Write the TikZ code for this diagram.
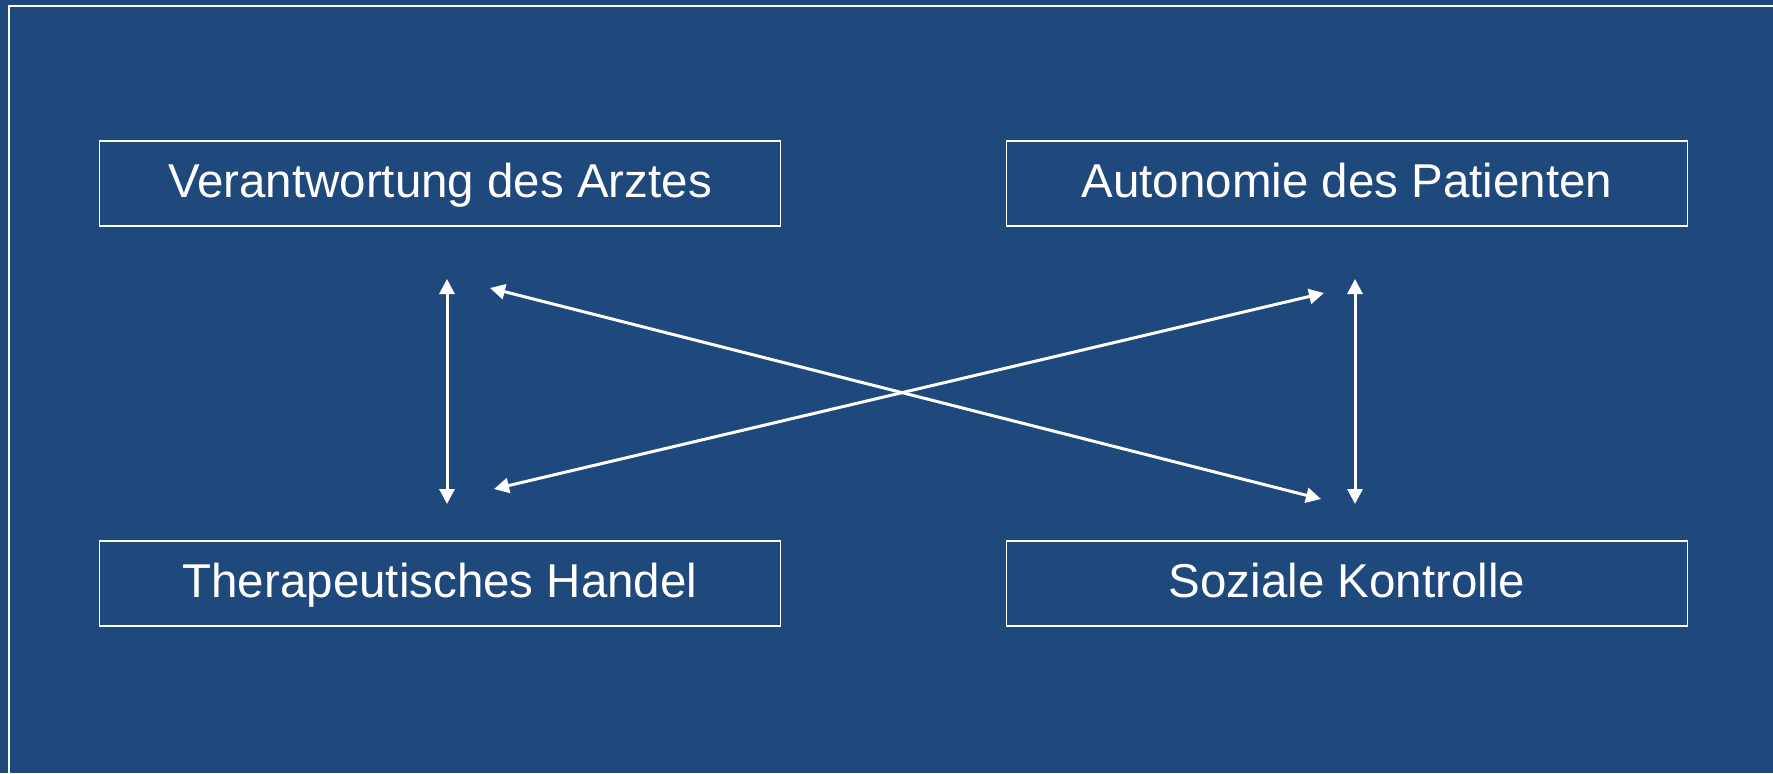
\documentclass[tikz,border=0pt]{standalone}
\usepackage{fontspec}
\setmainfont{Liberation Sans}
\usetikzlibrary{arrows.meta}
\definecolor{bgblue}{RGB}{31,73,125}

\begin{document}
\begin{tikzpicture}[x=0.5pt,y=-0.5pt,<->,>={Triangle[length=7.5pt,width=7.5pt]},line width=1.5pt,white]
  \tikzstyle{topic}=[draw,line width=0.75pt,minimum width=340.5pt,minimum height=42.5pt,inner sep=0pt,
    text height=17pt,text depth=2.7pt,font=\fontsize{23.75}{28}\selectfont,text=white]

  \fill[bgblue] (0,0) rectangle (1773,773);
  \useasboundingbox (0,0) rectangle (1773,773);
  \draw[-,line width=1pt] (9,773) -- (9,6) -- (1773,6);

  \node[topic] (arzt) at (440,183.5) {Verantwortung des Arztes};
  \node[topic] (pat) at (1347,183.5) {Autonomie des Patienten};
  \node[topic] (ther) at (440,583.5) {Therapeutisches Handel};
  \node[topic] (soz) at (1347,583.5) {Soziale Kontrolle};

  % arrow ends
  \coordinate (a1) at (447,279);
  \coordinate (a2) at (447,504);
  \coordinate (b1) at (1355,279);
  \coordinate (b2) at (1355,504);
  \coordinate (c1) at (490,288);
  \coordinate (c2) at (1321,499);
  \coordinate (d1) at (1324,293);
  \coordinate (d2) at (494,489);

  \path (a1) edge (a2);
  \path (b1) edge (b2);
  \path (c1) edge (c2);
  \path (d1) edge (d2);
\end{tikzpicture}
\end{document}
